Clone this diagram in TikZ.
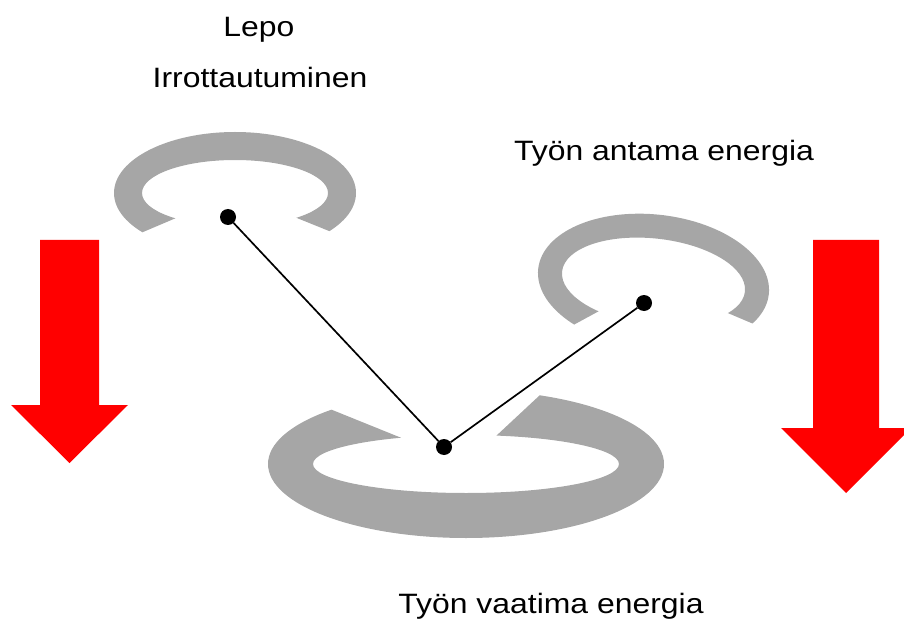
\documentclass[tikz,border=0pt]{standalone}
\usepackage{fontspec}
\setmainfont{Liberation Sans}
\definecolor{harmaa}{RGB}{166,166,166}

\begin{document}
\begin{tikzpicture}[x=1pt, y=1pt,
  teksti/.style={font=\fontsize{28}{33}\selectfont, xscale=1.14, anchor=base},
  piste/.style={circle, fill=black, inner sep=0pt, minimum size=16pt},
  viiva/.style={line width=1.7pt},
  nuoli/.style={fill=red}]

  \useasboundingbox (0,0) rectangle (904,622);

  %% open ring: centre, rotation, outer radii, inner radii, arc from/to
  \newcommand\rengas[8]{%
    \begin{scope}
      \clip (#1) -- +(#7:400) arc[start angle=#7, end angle=#8, radius=400] -- cycle;
      \fill[harmaa, even odd rule, rotate around={#2:(#1)}]
        (#1) ellipse[x radius=#3, y radius=#4]
        (#1) ellipse[x radius=#5, y radius=#6];
    \end{scope}}

  \rengas{235,429}{0}{121}{61}{93}{33}{-22}{203}
  \rengas{653.5,340.5}{-6.3}{116}{67}{92}{43}{-23}{208.5}
  \rengas{466,158}{0}{198}{74}{153}{29}{158}{403}

  \node[piste] (lepo) at (228,405) {};
  \node[piste] (anto) at (644,319) {};
  \node[piste] (vaade) at (444,175) {};

  \draw[viiva] (lepo) -- (vaade); %% lepo -> vaade
  \draw[viiva] (vaade) -- (anto); %% vaade -> anto

  % red arrows
  \fill[nuoli] (40,382) -- (99,382) -- (99,217) -- (128,217) -- (69.5,159)
    -- (11,217) -- (40,217) -- cycle;
  \fill[nuoli] (813,382) -- (879,382) -- (879,194) -- (911,194) -- (846,129)
    -- (781,194) -- (813,194) -- cycle;

  \node[teksti] (lepoteksti) at (259,585) {Lepo};
  \node[teksti] (irrotus) at (260,534) {Irrottautuminen};
  \node[teksti] (antoteksti) at (664,461) {Työn antama energia};
  \node[teksti] (vaadeteksti) at (551,9) {Työn vaatima energia};
\end{tikzpicture}
\end{document}
